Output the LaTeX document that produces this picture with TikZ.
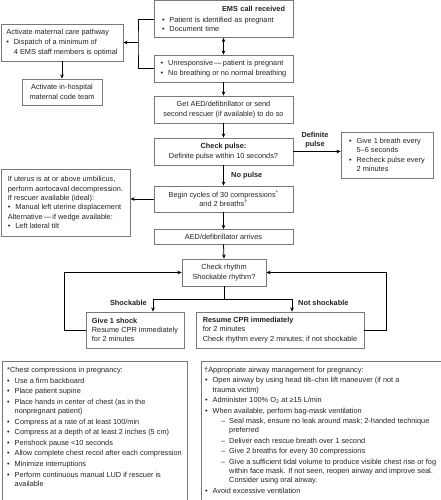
\documentclass[tikz,border=0pt]{standalone}
\usepackage{fontspec}
\setmainfont{Liberation Sans}
\usetikzlibrary{arrows.meta}
\definecolor{boxgray}{HTML}{787878}
\definecolor{txt}{HTML}{222222}
\newcommand{\ff}{\fontsize{7.35}{9.3}\selectfont}
\newcommand{\fbl}{\fontsize{7.35}{9.1}\selectfont}
\newcommand{\fbr}{\fontsize{7.35}{9.4}\selectfont}
\newcommand{\bu}{\makebox[7.5pt][l]{\textbullet}}
\newcommand{\ind}{\hspace*{7.5pt}}
\newcommand{\dsh}{\hspace*{17pt}\makebox[8pt][l]{--}}
\newcommand{\dind}{\hspace*{25pt}}
\begin{document}
\begin{tikzpicture}[x=1pt,y=-1pt,
  box/.style={draw=boxgray, line width=0.7pt, rectangle, inner sep=0pt, font=\ff, text=txt},
  boxline/.style={draw=boxgray, line width=0.7pt},
  lab/.style={font=\ff\bfseries, text=txt, inner sep=0pt},
  ln/.style={line width=0.8pt, black},
  arr/.style={ln, -{Stealth[length=4.2pt,width=3.6pt]}},
  dbl/.style={ln, {Stealth[length=4.2pt,width=3.6pt]}-{Stealth[length=4.2pt,width=3.6pt]}}]
\fill[white] (0,0) rectangle (441,500);
\useasboundingbox (0,0) rectangle (441,500);

% top column
\node[box, minimum width=139pt, minimum height=37pt, text width=123pt, inner xsep=8pt, align=left] (ems) at (223.5,19)
  {\hspace*{\fill}\textbf{EMS call received}\hspace*{\fill}\\[1.5pt]
   \bu Patient is identified as pregnant\\
   \bu Document time};
\node[box, minimum width=139pt, minimum height=27pt, align=left] (unr) at (223.5,68.5)
  {\bu Unresponsive\,—\,patient is pregnant\\
   \bu No breathing or no normal breathing};
\node[box, minimum width=139pt, minimum height=27pt, align=center] (getaed) at (223.5,109.5)
  {Get AED/defibrillator or send\\second rescuer (if available) to do so};

% left top
\node[box, minimum width=122pt, minimum height=37pt, align=left] (mat) at (62,42.5)
  {Activate maternal care pathway\\[1pt]
   \bu Dispatch of a minimum of\\
   \ind 4 EMS staff members is optimal};
\node[box, minimum width=80pt, minimum height=26pt, align=center] (hosp) at (62,92)
  {Activate in-hospital\\maternal code team};

% pulse
\node[box, minimum width=139pt, minimum height=27pt, align=center] (pulse) at (223.5,151.5)
  {\textbf{Check pulse:}\\[1.5pt] Definite pulse within 10 seconds?};
\node[lab, align=center] (deflab) at (315,140) {Definite\\pulse};
\node[box, minimum width=92pt, minimum height=46pt, align=left] (give) at (387,155)
  {\bu Give 1 breath every\\
   \ind 5--6 seconds\\
   \bu Recheck pulse every\\
   \ind 2 minutes};
\node[lab, anchor=west] (noplab) at (231,176) {No pulse};

% compressions
\node[box, minimum width=139pt, minimum height=26pt, align=center] (cyc) at (223.5,199)
  {Begin cycles of 30 compressions\textsuperscript{*}\\and 2 breaths\textsuperscript{†}};
\node[box, minimum width=129pt, minimum height=67pt, align=left] (uter) at (65.5,202.5)
  {If uterus is at or above umbilicus,\\
   perform aortocaval decompression.\\
   If rescuer available (ideal):\\
   \bu Manual left uterine displacement\\
   Alternative\,—\,if wedge available:\\
   \bu Left lateral tilt};
\node[box, minimum width=139pt, minimum height=14.5pt, align=center] (arrives) at (223.5,236.75)
  {AED/defibrillator arrives};

% rhythm
\node[box, minimum width=84pt, minimum height=27pt, align=center] (rhy) at (224,272.5)
  {Check rhythm\\Shockable rhythm?};
\node[box, minimum width=98pt, minimum height=36pt, align=left] (shock) at (135,330)
  {\textbf{Give 1 shock}\\
   Resume CPR immediately\\
   for 2 minutes};
\node[box, minimum width=168pt, minimum height=36pt, align=left] (resume) at (280,330)
  {\textbf{Resume CPR immediately}\\
   for 2 minutes\\
   Check rhythm every 2 minutes; if not shockable};
\node[lab, anchor=east] (shklab) at (147,303) {Shockable};
\node[lab, anchor=west] (nshklab) at (298,303) {Not shockable};

% connectors
\coordinate (jn) at (138,42.5);
\draw[ln] (ems.west) -| (jn) |- (unr.west);
\draw[arr] (jn) -- (mat.east);
\draw[arr] (mat.south) -- (hosp.north);
\draw[dbl] (ems.south) -- (unr.north);
\draw[arr] (unr.south) -- (getaed.north);
\draw[arr] (getaed.south) -- (pulse.north);
\draw[arr] (pulse.east) -- (pulse.east -| give.west);
\draw[arr] (pulse.south) -- (cyc.north);
\draw[arr] (cyc.west) -- (cyc.west -| uter.east);
\draw[arr] (cyc.south) -- (arrives.north);
\draw[arr] (arrives.south) -- (rhy.north);
\coordinate (sp) at (224,299);
\coordinate (spl) at (153,299);
\coordinate (spr) at (292,299);
\draw[ln] (rhy.south) -- (sp);
\draw[ln] (spl) -- (spr);
\draw[arr] (spl) -- (spl |- shock.north);
\draw[arr] (spr) -- (spr |- resume.north);
\coordinate (lpl) at (64,272.5);
\coordinate (lpr) at (386,272.5);
\draw[arr] (shock.west) -| (lpl) -- (rhy.west);
\draw[arr] (resume.east) -| (lpr) -- (rhy.east);

% bottom notes
\draw[boxline] (2,506) -- (2,361) -- (187,361) -- (187,506);
\draw[boxline] (201,506) -- (201,361) -- (441.5,361) -- (441.5,506);
\node[anchor=base west, inner sep=0pt, font=\fbl, text=txt] (chest) at (7,372.5)
  {\begin{tabular}[t]{@{}l@{}}
   *Chest compressions in pregnancy:\\[1.5pt]
   \bu Use a firm backboard\\[1.5pt]
   \bu Place patient supine\\[1.5pt]
   \bu Place hands in center of chest (as in the\\
   \ind nonpregnant patient)\\[1.5pt]
   \bu Compress at a rate of at least 100/min\\[1.5pt]
   \bu Compress at a depth of at least 2 inches (5 cm)\\[1.5pt]
   \bu Perishock pause <10 seconds\\[1.5pt]
   \bu Allow complete chest recoil after each compression\\[1.5pt]
   \bu Minimize interruptions\\[1.5pt]
   \bu Perform continuous manual LUD if rescuer is\\
   \ind available
   \end{tabular}};
\node[anchor=base west, inner sep=0pt, font=\fbr, text=txt] (airway) at (204,372.5)
  {\begin{tabular}[t]{@{}l@{}}
   †Appropriate airway management for pregnancy:\\[1pt]
   \hspace*{1pt}\bu Open airway by using head tilt–chin lift maneuver (if not a\\
   \hspace*{1pt}\ind trauma victim)\\[1pt]
   \hspace*{1pt}\bu Administer 100\% O\textsubscript{2} at ≥15 L/min\\[1pt]
   \hspace*{1pt}\bu When available, perform bag-mask ventilation\\[1pt]
   \dsh Seal mask, ensure no leak around mask; 2-handed technique\\
   \dind preferred\\[1pt]
   \dsh Deliver each rescue breath over 1 second\\[1pt]
   \dsh Give 2 breaths for every 30 compressions\\[1pt]
   \dsh Give a sufficient tidal volume to produce visible chest rise or fog\\
   \dind within face mask. If not seen, reopen airway and improve seal.\\
   \dind Consider using oral airway.\\[1pt]
   \hspace*{1pt}\bu Avoid excessive ventilation
   \end{tabular}};
\end{tikzpicture}
\end{document}
